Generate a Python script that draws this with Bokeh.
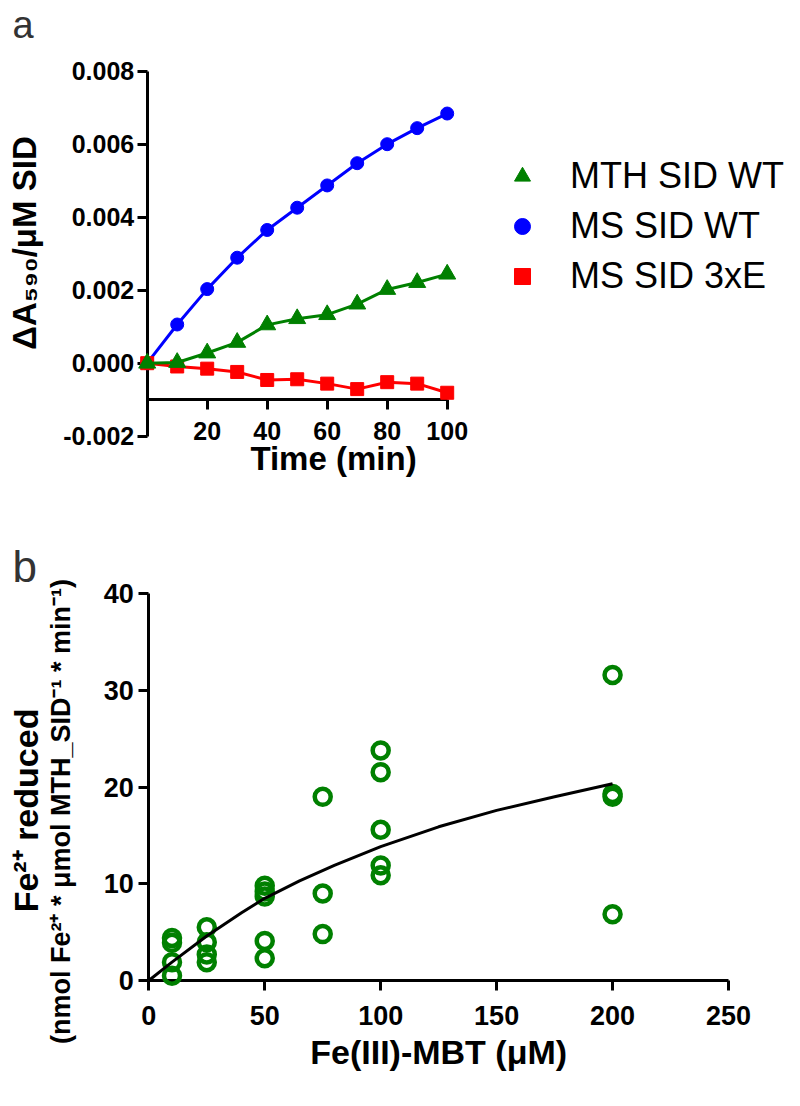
import math
from bokeh.plotting import figure
from bokeh.models import (Range1d, FixedTicker, NumeralTickFormatter, Legend,
                          LegendItem, Label)
from bokeh.layouts import column
from bokeh.embed import file_html
from bokeh.resources import INLINE

# ---------------- data: panel a ----------------
time_min = [0, 10, 20, 30, 40, 50, 60, 70, 80, 90, 100]
ms_sid_wt = [0, 0.00106, 0.00203, 0.00289, 0.00365, 0.00426, 0.00487,
             0.00548, 0.00600, 0.00644, 0.00684]
mth_sid_wt = [0, 0.00002, 0.00028, 0.00057, 0.00105, 0.00122, 0.00133,
              0.00162, 0.00202, 0.00221, 0.00244]
ms_sid_3xe = [0, -0.00009, -0.00015, -0.00024, -0.00046, -0.00044,
              -0.00056, -0.00071, -0.00052, -0.00056, -0.00081]
a_xticks = [20, 40, 60, 80, 100]
a_yticks = [-0.002, 0.0, 0.002, 0.004, 0.006, 0.008]

# ---------------- data: panel b ----------------
fe_mbt = [10, 10, 10, 10, 25, 25, 25, 25, 50, 50, 50, 50, 50,
          75, 75, 75, 100, 100, 100, 100, 100, 200, 200, 200, 200]
fe_reduced = [4.4, 3.9, 1.9, 0.5, 5.5, 3.95, 2.7, 1.9, 9.8, 9.2, 8.7, 4.1, 2.3,
              19.0, 9.0, 4.8, 23.8, 21.55, 15.6, 11.9, 10.9, 31.6, 19.3, 19.0, 6.85]
fit_x = [0, 10, 25, 40, 50, 65, 80, 100, 125, 150, 175, 200]
fit_y = [0, 1.9, 4.6, 7.0, 8.5, 10.3, 11.9, 13.85, 15.9, 17.6, 19.0, 20.35]
b_xticks = [0, 50, 100, 150, 200, 250]
b_yticks = [0, 10, 20, 30, 40]

FONT = "Liberation Sans"
GREEN = "#008000"
BLUE = "#0000FF"
RED = "#FF0000"


def style_axis(ax, tick_size, standoff):
    ax.axis_line_width = 3
    ax.axis_line_color = "black"
    ax.major_tick_line_width = 3
    ax.major_tick_line_color = "black"
    ax.major_tick_in = 0
    ax.major_tick_out = 10
    ax.minor_tick_line_color = None
    ax.major_label_text_font = FONT
    ax.major_label_text_font_style = "bold"
    ax.major_label_text_font_size = tick_size
    ax.major_label_text_color = "black"
    ax.major_label_standoff = standoff
    ax.axis_label = None


def text_label(x, y, text, size, style="bold", angle=0.0, align="center",
               color="black"):
    return Label(x=x, y=y, text=text, angle=angle, text_align=align,
                 text_baseline="alphabetic", text_font=FONT,
                 text_font_style=style, text_font_size=size, text_color=color)


# ================= panel a =================
pa = figure(width=800, height=500, x_range=Range1d(-48.9, 217.77),
            y_range=Range1d(-0.003762, 0.009937), output_backend="svg",
            toolbar_location=None, min_border=0)
pa.grid.visible = False
pa.outline_line_color = None

style_axis(pa.xaxis[0], "25px", 12)
style_axis(pa.yaxis[0], "25px", 3)
pa.xaxis.ticker = FixedTicker(ticks=a_xticks)
pa.xaxis.fixed_location = -0.001
pa.xaxis.bounds = (0, 100)
pa.yaxis.ticker = FixedTicker(ticks=a_yticks)
pa.yaxis.formatter = NumeralTickFormatter(format="0.000")
pa.yaxis.fixed_location = 0
pa.yaxis.bounds = (-0.002, 0.008)

pa.line(time_min, ms_sid_wt, line_color=BLUE, line_width=3, level="overlay")
r_blue = pa.scatter(time_min, ms_sid_wt, marker="circle", size=13,
                    fill_color=BLUE, line_color=BLUE, level="overlay")
pa.line(time_min, ms_sid_3xe, line_color=RED, line_width=3, level="overlay")
r_red = pa.scatter(time_min, ms_sid_3xe, marker="square", size=13,
                   fill_color=RED, line_color=RED, level="overlay")
pa.line(time_min, mth_sid_wt, line_color=GREEN, line_width=3, level="overlay")
r_green = pa.scatter(time_min, mth_sid_wt, marker="triangle", size=17,
                     fill_color=GREEN, line_color=GREEN, level="overlay")

legend = Legend(items=[LegendItem(label="MTH SID WT", renderers=[r_green]),
                       LegendItem(label="MS SID WT", renderers=[r_blue]),
                       LegendItem(label="MS SID 3xE", renderers=[r_red])],
                location=(502, 203), glyph_width=40, glyph_height=40,
                label_standoff=28, spacing=8, padding=0, margin=0,
                border_line_color=None, background_fill_alpha=0,
                label_text_font=FONT, label_text_font_size="36px",
                label_text_color="black")
pa.add_layout(legend)

pa.add_layout(text_label(-44.9, 0.009279, "a", "38px", style="normal",
                         align="left", color="#333333"))
pa.add_layout(text_label(62.1, -0.002600, "Time (min)", "33px"))
pa.add_layout(text_label(-40.9, 0.003293, "ΔA₅₉₀/μM SID", "33px",
                         angle=math.pi / 2))

# ================= panel b =================
pb = figure(width=800, height=606, x_range=Range1d(-63.96, 281.05),
            y_range=Range1d(-13.03, 49.65), output_backend="svg",
            toolbar_location=None, min_border=0)
pb.grid.visible = False
pb.outline_line_color = None

style_axis(pb.xaxis[0], "27px", 15)
style_axis(pb.yaxis[0], "27px", 5)
pb.xaxis.ticker = FixedTicker(ticks=b_xticks)
pb.xaxis.fixed_location = 0
pb.xaxis.bounds = (0, 250)
pb.yaxis.ticker = FixedTicker(ticks=b_yticks)
pb.yaxis.fixed_location = 0
pb.yaxis.bounds = (0, 40)

pb.scatter(fe_mbt, fe_reduced, marker="circle", size=16, fill_color=None,
           line_color=GREEN, line_width=4.5, level="overlay")
pb.line(fit_x, fit_y, line_color="black", line_width=3, level="overlay")

pb.add_layout(text_label(-58.78, 42.83, "b", "44px", style="normal",
                         align="left", color="#333333"))
pb.add_layout(text_label(125, -7.35, "Fe(III)-MBT (μM)", "34px"))
pb.add_layout(text_label(-38.07, 17.48, "(nmol Fe²⁺ * μmol MTH_SID⁻¹ * min⁻¹)",
                         "27px", angle=math.pi / 2))
pb.add_layout(text_label(-53.17, 17.59, "Fe²⁺ reduced", "34px",
                         angle=math.pi / 2))

layout = column(pa, pb)
open("out.html", "w", encoding="utf-8").write(file_html(layout, INLINE))
